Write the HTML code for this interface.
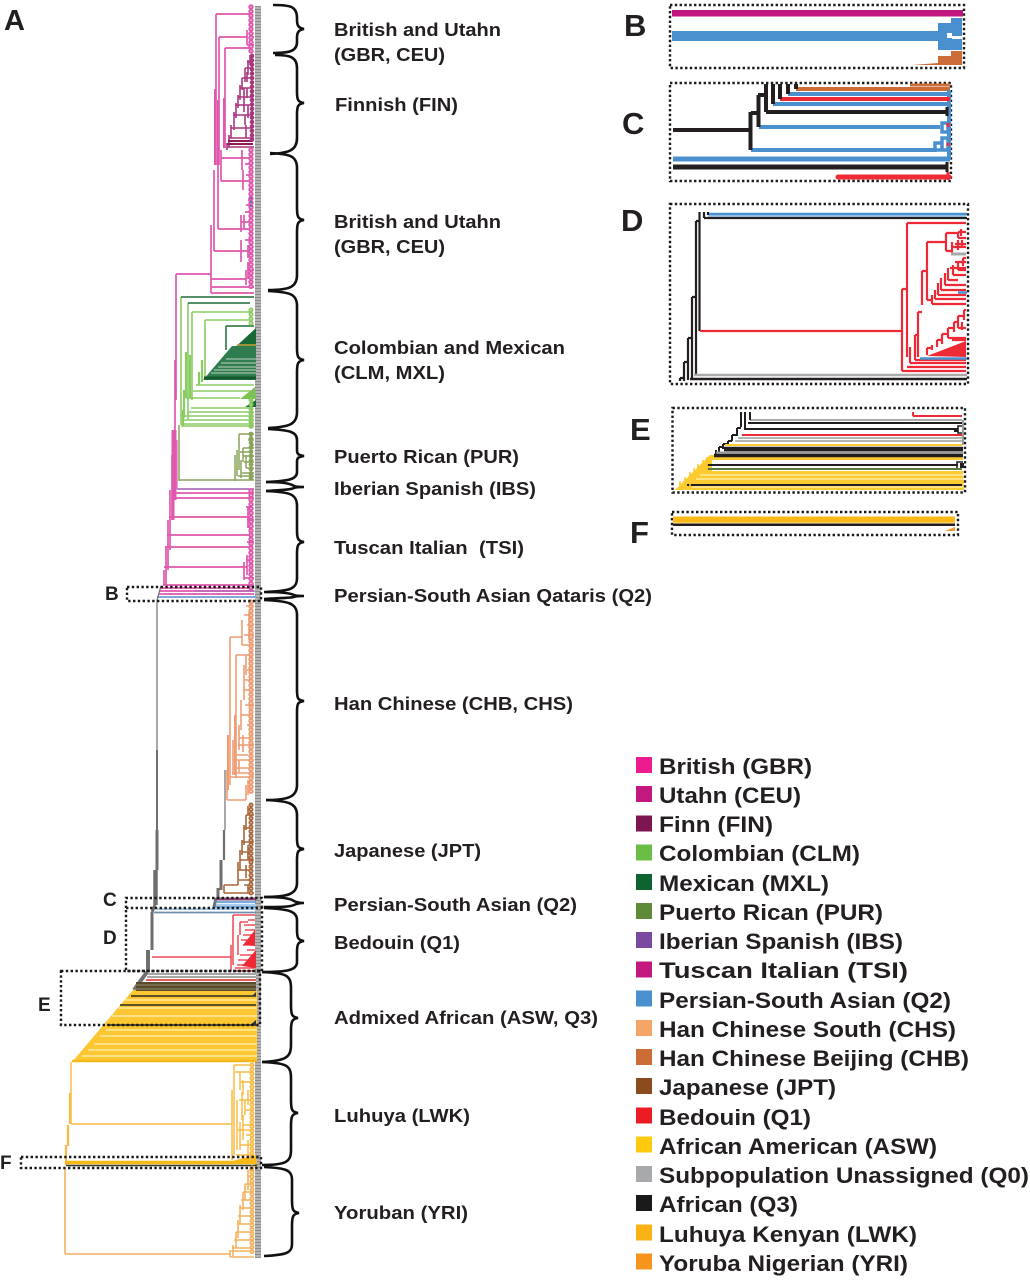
<!DOCTYPE html>
<html><head><meta charset="utf-8"><style>
html,body{margin:0;padding:0;background:#fff}
svg{display:block}
text{font-family:"Liberation Sans",sans-serif;font-weight:bold;fill:#231f20}
.l{font-size:18px}.g{font-size:22.5px}
.p{fill:none}
.dot{fill:none;stroke:#1a1a1a;stroke-width:2.4;stroke-dasharray:2.4 2.4}
</style></head><body>
<svg width="1030" height="1280" viewBox="0 0 1030 1280" xmlns="http://www.w3.org/2000/svg">
<rect width="1030" height="1280" fill="#fff"/>

<!-- leaf strip -->
<line x1="258" y1="6" x2="258" y2="1258" stroke="#b4b4b4" stroke-width="6"/>
<line x1="258" y1="6" x2="258" y2="1258" stroke="#8c8c8c" stroke-width="6" stroke-dasharray="1 2"/>

<!-- PINK upper -->
<g class="p" stroke="#e058ad" stroke-width="1.7">
<path d="M216 14H250M216 14V165M219 37H247M219 37V165M225 48H250M225 48V148M221 150V181M221 158H250M221 181H250M218 165V229M218 229H241M214 170V251M214 251H250M211 225V293M211 279H246M211 287H254M211 293H254M176 274H211M241 215V232M241 229H250M241 222H252M245 212H252M246 205H252M248 200H252M250 37H254M247 30V45M247 45H254M246 270V285M248 262V279M248 270H254M250 195V222M244 215V229M240 158H250M242 150V170M240 181H250M243 170V190M245 164H252M246 175H252M241 240V262M241 251H250M245 240H252M248 245V258"/>
<path stroke-width="2" d="M215 89V165M218 100V165M224 98V148"/>
<path d="M176 274V400M175 360V435M170 490V550M168 520V570M166 547V585M164 570V585M172 455V520"/>
<path stroke-width="3" d="M175 430V500M173 430V520"/>
<path d="M172 493H254M172 498H254M169 517H248M167 535H250M165 547H250M164 567H247M248 507V528M250 525V545M247 555V575M246 507H252M247 520H254M247 542H254M246 560H252M244 562V580M244 578H254"/>
<path stroke-width="1.8" d="M163 585H254M161 588H254M160 591H254M159 594H254"/>
</g>
<path d="M157 597H256" stroke="#7fa9dd" stroke-width="2"/>
<path d="M195 591H255" stroke="#9a5ab0" stroke-width="1"/>

<!-- Finnish ladder -->
<g class="p" stroke="#a9357f" stroke-width="1.6">
<path d="M227 147H254M229 138H254M231 128H252M234 115H252M236 105H252M238 97H252M240 88H252M242 78H252M245 68H252M247 62H252M250 55V65M248 60V75M245 68V82M242 78V90M240 85V100M238 95V108M236 103V118M234 112V130M231 125V138M229 135V147M227 143V150M244 88V100M247 72V82M245 115V125M244 100V112M246 125V138M248 105V118M247 88V98"/>
<path stroke="#8d1a5a" stroke-width="2" d="M228 141H253M227 144H253"/>
</g>

<!-- GREEN -->
<g class="p" stroke="#8ccb64" stroke-width="1.6">
<path d="M181 297V425M188 303V420M192 312V400M205 320V378M192 312H250M205 320H250M196 385H254M193 391H254M186 398H240M191 408H252M187 412H254M185 416H254M183 420H254M182 424H254M181 426H254"/>
<path stroke-width="2.2" d="M186 352V398M190 355V398M184 390V418M183 410V426M202 360V382M199 372V385"/>
</g>
<path d="M181 297H254M188 303H250M226 326H254M226 326V350" stroke="#1e6b38" stroke-width="1.5" fill="none"/>
<polygon points="230,352 256,328 256,352" fill="#1a6736"/>
<polygon points="232,346 256,346 256,380 203,380" fill="#2f7d4f"/>
<path d="M226 359H256M221 363H256M218 367H256M214 370H256M211 373H256" stroke="#8fb59b" stroke-width="1.5"/>
<path d="M237 345H256" stroke="#c9a13a" stroke-width="1.6"/>
<path d="M204 378H256" stroke="#14592d" stroke-width="3"/>
<polygon points="240,399 255,387 256,399" fill="#7cc353"/>
<polygon points="245,407 256,400 256,407" fill="#1e6b38"/>

<!-- Puerto Rican -->
<g class="p" stroke="#8aa45a" stroke-width="1.5">
<path d="M239 434H254M239 434V470M240 452H252M243 448H254M241 470V478M235 455V481M179 480H254M179 425V481M237 450V476M243 456H254M244 462H254M246 468H254M242 473H254M238 476H254M248 440H254M250 445H254M243 448V462M246 455V468M241 460V474"/>
</g>
<path d="M177 489H254" stroke="#9a5ab0" stroke-width="1.5"/>
<path d="M177 440V489" stroke="#d870c0" stroke-width="1.3"/>

<!-- gray long -->
<g class="p" stroke="#6f6f6f">
<path stroke-width="1.2" d="M157 600V750M161 586L157 600"/>
<path stroke-width="2" d="M157 750V830"/>
<path stroke-width="3" d="M157 830V870"/>
<path stroke-width="4.5" d="M155.5 870V905"/>
<path stroke-width="3" d="M152 912V950M155 905L152 912"/>
<path stroke-width="4" d="M148 950V972M147 972L134 990"/>
<path stroke-width="1.2" d="M225 770V830"/>
<path stroke-width="2.2" d="M224 830V860"/>
<path stroke-width="3" d="M221 860V890M218 888V900M216 898L214 907"/>
</g>

<!-- HAN -->
<g class="p" stroke="#ef9c73" stroke-width="1.6">
<path d="M230 637V785M230 637H242M236 655V760M236 655H250M242 620V645M242 645H254M246 606H254M244 615H250M247 625H254M244 635H254M249 612V640M247 670H252M245 680H252M243 690H254M241 700V730M241 715H252M245 705H254M247 725H254M239 725V750M239 738H250M238 745H254M237 755H248M235 760H254M233 768H254M232 773H254M230 777H254M227 770V800M227 800H246M246 785V800M248 780V795M251 775H254M250 645V685M239 760V772M233 740V775M236 745V778M244 665V700M246 655V675M243 735V752"/>
<path stroke-width="2" d="M228 735V790M235 715V775"/>
</g>
<!-- Japanese -->
<g class="p" stroke="#a9663a" stroke-width="1.6">
<path d="M248 806V815M246 815V830M244 825V845M242 840V855M240 850V870M238 862V885M224 885H238M224 893H254M224 885V893M246 815H254M244 828H252M242 842H254M241 852H252M240 860H254M238 870H250M239 880H254M248 845V860M246 865V878M248 885V893M244 885H252"/>
</g>
<path d="M216 899H256" stroke="#8c4a7a" stroke-width="3"/>
<path d="M215 902H256M214 907H257" stroke="#4a90cf" stroke-width="1.5"/>
<path d="M216 905H256" stroke="#a9cdef" stroke-width="2.5"/>
<path d="M157 909H256" stroke="#a9cdef" stroke-width="2"/>
<path d="M154 912.5H256" stroke="#6f8fb0" stroke-width="1.8"/>

<!-- Bedouin -->
<g class="p" stroke="#ee2a36" stroke-width="1.3">
<path d="M152 957H231M233 915H255M233 915V965M231 945V971M233 971H255M238 960H255M237 965H255M235 968H255M248 920H255M240 922H248M240 922V935M244 925H255M245 930H255M243 935H252M238 935V955M241 940H255M243 945H255M247 950H255M240 955H255"/>
</g>
<polygon points="242,966 256,950 256,968" fill="#ee2a36"/>
<polygon points="243,945 255,930 255,946" fill="#ee2a36"/>

<!-- African yellow -->
<polygon points="133,990 257,990 257,1062 72,1062" fill="#fcc733"/>
<path d="M125 1000H257M118 1008H257M112 1016H257M106 1030H257M100 1036H257M94 1044H257M88 1050H257M82 1056H257" stroke="#feeaa0" stroke-width="1.4"/>
<path d="M72 1061H257" stroke="#f8b81c" stroke-width="2.5"/>
<rect x="148" y="973" width="108" height="9" fill="#fff"/>
<path d="M148 974H256M147 977H256" stroke="#8a8a8a" stroke-width="1.5"/>
<path d="M146 980H256" stroke="#e0242c" stroke-width="1.5"/>
<rect x="136" y="982" width="120" height="9" fill="#5b4a2c"/>
<path d="M135 985H256M134 989H256" stroke="#8f8a6a" stroke-width="1"/>
<path d="M131 996H254M120 1005H256M107 1025H254" stroke="#2a2a22" stroke-width="1.6"/>
<polygon points="252,996 256,992 256,997" fill="#333"/>
<polygon points="250,1025 256,1020 256,1026" fill="#333"/>

<!-- Luhuya -->
<g class="p" stroke="#f9bb45" stroke-width="1.5">
<path d="M71 1062V1124M71 1124H232M232 1090V1160M234 1065V1155M234 1065H254M235 1072H252M240 1072V1090M240 1082H252M243 1080V1095M248 1090V1105M245 1100V1115M246 1110H252M243 1115V1140M243 1125H254M238 1130H254M240 1122V1150M240 1145H254M246 1135H254M248 1140V1155M236 1155H254M239 1100H250M242 1092V1120M237 1100V1150"/>
<path stroke-width="2.2" d="M70 1093V1124M68 1125V1146M66 1145V1165"/>
</g>
<path d="M66 1162.5H257" stroke="#fbb917" stroke-width="3.5"/>
<polygon points="232,1161 256,1155 256,1161" fill="#fbb917"/>
<path d="M66 1165.5H257" stroke="#3a3a2a" stroke-width="1.6"/>

<!-- Yoruban -->
<g class="p" stroke="#f2b25e" stroke-width="1.6">
<path d="M65 1168V1254M65 1254H230M230 1250V1257M230 1257H254M232 1248H254M234 1240H254M236 1232H250M237 1224H254M238 1216H252M240 1208H254M241 1200H252M243 1192H252M245 1184H254M247 1176H254M249 1170H254M248 1170V1190M245 1184V1200M243 1192V1210M240 1205V1225M238 1220V1238M236 1232V1248M233 1245V1256M231 1251H254"/>
</g>

<!-- scallop leaves -->
<g fill="none" stroke-linecap="round" stroke-dasharray="0 4.4">
<path stroke="#e058ad" stroke-width="5.4" d="M251 7V52M251 150V290M251 491V590"/>
<path stroke="#a9357f" stroke-width="4.6" d="M252 56V140"/>
<path stroke="#8ccb64" stroke-width="5" d="M251 310V325M251 400V428"/>
<path stroke="#8aa45a" stroke-width="4.8" d="M251 434V480"/>
<path stroke="#ef9c73" stroke-width="5.4" d="M251 602V795"/>
<path stroke="#a9663a" stroke-width="5" d="M251 805V895"/>
<path stroke="#f9bb45" stroke-width="5" d="M252 1065V1158"/>
<path stroke="#f2b25e" stroke-width="5" d="M252 1168V1252"/>
<path stroke="#fff" stroke-width="1.3" d="M251 7V52M251 150V290M251 491V590M251 310V325M251 602V795M251 805V895M252 1065V1158M252 1168V1252"/>
</g>
<path d="M251 197V207" stroke="#7a6bb5" stroke-width="3" stroke-dasharray="2 2"/>

<!-- dotted boxes main -->
<path class="dot" d="M127 587H261V601H127Z"/>
<path class="dot" d="M126 908V898H262V908"/>
<path class="dot" d="M126 908H262V971H126Z"/>
<path class="dot" d="M61 971H260V1025H61Z"/>
<path class="dot" d="M21 1157H261V1168H21Z"/>

<!-- braces -->
<g fill="none" stroke="#111" stroke-width="2.6">
<path d="M273 5C290 5 297 6 297 18V20C297 25 298 28 304 29C298 30 297 33 297 38V42C297 51 290 53 273 53"/>
<path d="M275 55C290 55 297 57 297 68V92C297 100 298 102 304 103C298 104 297 106 297 114V138C297 150 290 153 270 154"/>
<path d="M270 153C290 154 297 156 297 168V208C297 217 298 219 304 220C298 221 297 223 297 232V275C297 287 290 290 268 290"/>
<path d="M268 291C290 292 297 294 297 306V348C297 357 298 359 304 360C298 361 297 363 297 372V412C297 424 290 427 268 428"/>
<path d="M268 429C290 430 297 432 297 440V450C297 454 298 455 304 456C298 457 297 458 297 462V472C297 479 290 481 266 482"/>
<path d="M266 482C280 482 290 483 294 486C296 487 298 487 304 487C298 487 296 487 294 488C290 490 280 490 266 491"/>
<path d="M266 491C290 492 297 494 297 506V530C297 539 298 541 304 542C298 543 297 545 297 554V578C297 589 290 591 266 592"/>
<path d="M264 592C280 592 290 593 294 595C296 596 298 596 304 596C298 596 296 596 294 597C290 598 280 598 264 599"/>
<path d="M264 600C288 601 297 603 297 615V690C297 699 298 700 304 701C298 702 297 703 297 712V785C297 797 288 800 266 800"/>
<path d="M266 800C288 801 297 803 297 815V838C297 847 298 848 304 849C298 850 297 851 297 860V883C297 894 288 897 264 897"/>
<path d="M264 897C280 897 290 898 294 901C296 902 298 903 304 903C298 903 296 904 294 905C290 907 280 907 264 907"/>
<path d="M264 908C288 909 297 911 297 920V930C297 938 298 940 304 941C298 942 297 944 297 952V962C297 970 288 972 262 972"/>
<path d="M262 972C286 973 291 975 291 988V1005C291 1015 292 1017 298 1018C292 1019 291 1021 291 1031V1045C291 1057 286 1061 262 1062"/>
<path d="M262 1062C286 1063 291 1065 291 1078V1100C291 1110 292 1112 298 1113C292 1114 291 1116 291 1126V1150C291 1162 286 1165 262 1165"/>
<path d="M264 1167C286 1168 292 1170 292 1180V1200C292 1210 293 1212 299 1213C293 1214 292 1216 292 1226V1244C292 1253 286 1255 264 1256"/>
</g>

<!-- tree labels -->
<text class="l" x="334" y="36" textLength="167" lengthAdjust="spacingAndGlyphs">British and Utahn</text>
<text class="l" x="334" y="61" textLength="111" lengthAdjust="spacingAndGlyphs">(GBR, CEU)</text>
<text class="l" x="335" y="111" textLength="123" lengthAdjust="spacingAndGlyphs">Finnish (FIN)</text>
<text class="l" x="334" y="228" textLength="167" lengthAdjust="spacingAndGlyphs">British and Utahn</text>
<text class="l" x="334" y="253" textLength="111" lengthAdjust="spacingAndGlyphs">(GBR, CEU)</text>
<text class="l" x="334" y="354" textLength="231" lengthAdjust="spacingAndGlyphs">Colombian and Mexican</text>
<text class="l" x="334" y="379" textLength="111" lengthAdjust="spacingAndGlyphs">(CLM, MXL)</text>
<text class="l" x="334" y="463" textLength="185" lengthAdjust="spacingAndGlyphs">Puerto Rican (PUR)</text>
<text class="l" x="334" y="495" textLength="202" lengthAdjust="spacingAndGlyphs">Iberian Spanish (IBS)</text>
<text class="l" x="334" y="554" textLength="190" lengthAdjust="spacingAndGlyphs" xml:space="preserve">Tuscan Italian  (TSI)</text>
<text class="l" x="334" y="602" textLength="318" lengthAdjust="spacingAndGlyphs">Persian-South Asian Qataris (Q2)</text>
<text class="l" x="334" y="710" textLength="239" lengthAdjust="spacingAndGlyphs">Han Chinese (CHB, CHS)</text>
<text class="l" x="334" y="857" textLength="147" lengthAdjust="spacingAndGlyphs">Japanese (JPT)</text>
<text class="l" x="334" y="911" textLength="243" lengthAdjust="spacingAndGlyphs">Persian-South Asian (Q2)</text>
<text class="l" x="334" y="949" textLength="126" lengthAdjust="spacingAndGlyphs">Bedouin (Q1)</text>
<text class="l" x="334" y="1024" textLength="264" lengthAdjust="spacingAndGlyphs">Admixed African (ASW, Q3)</text>
<text class="l" x="334" y="1122" textLength="136" lengthAdjust="spacingAndGlyphs">Luhuya (LWK)</text>
<text class="l" x="334" y="1219" textLength="134" lengthAdjust="spacingAndGlyphs">Yoruban (YRI)</text>

<!-- letters -->
<text x="4" y="30" font-size="29">A</text>
<text x="624" y="36" font-size="31">B</text>
<text x="622" y="134" font-size="31">C</text>
<text x="621" y="231" font-size="31">D</text>
<text x="630" y="440" font-size="31">E</text>
<text x="630" y="543" font-size="31">F</text>
<text x="105" y="600" font-size="19">B</text>
<text x="103" y="906" font-size="19">C</text>
<text x="103" y="944" font-size="19">D</text>
<text x="38" y="1011" font-size="19">E</text>
<text x="0" y="1169" font-size="19">F</text>

<!-- Inset B -->
<path class="dot" d="M670 5H964V68H670Z"/>
<rect x="672" y="10" width="291" height="6.5" fill="#c2177f"/>
<rect x="672" y="31" width="266" height="10" fill="#4a90cf"/>
<path d="M951 18H962V50H938V23H951Z" fill="#4a90cf"/>
<rect x="947" y="33" width="5" height="5" fill="#fff"/>
<rect x="952" y="36" width="10" height="3" fill="#fff"/>
<path d="M951 51H962V65H938V56H951Z" fill="#cc6d37"/>
<polygon points="912,65 938,63 938,65" fill="#cc6d37"/>

<!-- Inset C -->
<path class="dot" d="M670 83H951V181H670Z"/>
<g fill="none" stroke-width="4">
<path stroke="#cc6d37" d="M796 89H950"/>
<path stroke="#cc6d37" stroke-width="3" d="M910 85H950"/>
<path stroke="#4a90cf" d="M788 94H950M773 104H950M759 127H940M751 150H934M949 90V160"/>
<path stroke="#ee2a36" d="M780 99H950"/>
<path stroke="#4a90cf" stroke-width="3.5" d="M942 123H948V132H942ZM935 152V143H942V150M942 143V138H948V150H935"/>
<path stroke="#4a90cf" stroke-width="5" d="M673 159H950"/>
<path stroke="#231f20" stroke-width="5" d="M673 167H946"/>
<path stroke="#ee2a36" stroke-width="5" stroke-linecap="round" d="M838 177H949"/>
<path stroke="#231f20" d="M673 130H750M750.5 112V150M751 113H758M758.5 95V127M758 95H765M766 84V112M766 112H946M773 84V104M780 84V99M788 84V94M796 84V89"/>
<path stroke="#231f20" stroke-width="3" d="M947 107V116M947 162V172"/>
<path stroke="#ee2a36" stroke-width="3" d="M948 172V180M948 123V127M948 143V146"/>
</g>

<!-- Inset D -->
<path class="dot" d="M670 204H968V384H670Z"/>
<g fill="none" stroke-width="2.2">
<path stroke="#a9cdef" stroke-width="2" d="M708 216H966"/>
<path stroke="#4a90cf" stroke-width="2.5" d="M708 214H967"/>
<path stroke="#231f20" d="M704 218H967M704 212V218M708 212V215M699.5 212V331M696 221V375M692 297V378M696 221H700M692 297H696M688 338V380M688 338H692M684 362V381M684 362H688M680 378V381M680 378H684"/>
<path stroke="#aaa" stroke-width="2.5" d="M694 375H967"/>
<path stroke="#231f20" stroke-width="2.5" d="M690 379H967"/>
<path stroke="#ee2a36" d="M700 331H902M902 289V371M902 289H907M902 371H966M907 223V357M907 223H966M907 367H966M910 347V363M910 363H966M915 335V360M915 360H966M918 312V357M915 335H918M918 312H922M922 271V305M922 271H927M927 242V300M927 242H946M946 233V251M946 233H958M958 232V238M958 232H966M958 238H966M961 229V236M946 251H952M952 242V253M952 247H966M955 244H966M958 240V250M962 240V246"/>
<path stroke="#ee2a36" d="M927 300H932M932 295V304M932 304H966M935 290V299M935 299H966M938 283V295M938 295H966M941 278V290M941 290H966M945 273V285M945 285H966M948 268V280M948 280H958M953 265V275M953 275H966M958 262V270M958 270H966M963 258V266M963 258H966M950 268H966M955 262H966"/>
<path stroke="#ee2a36" d="M927 355V348M927 348H932M932 345V350M937 340V347M937 340H942M942 334V344M942 334H948M948 328V338M948 328H954M954 322V332M954 322H958M958 316V328M958 316H964M964 310V320M964 310H966M958 328H966M962 322V330M952 340H966M948 338H966"/>
<path stroke="#aaa" stroke-width="3" d="M951 254H966"/>
<path stroke="#4a90cf" stroke-width="2.5" d="M958 292.5H967"/>
</g>
<polygon points="927,356 966,341 966,357" fill="#ee2a36"/>
<path d="M920 358.5H967" stroke="#4a90cf" stroke-width="2.5"/>

<!-- Inset E -->
<path class="dot" d="M672.5 408H965V492.5H672.5Z"/>
<polygon points="675,490 710,455 962,455 964,490" fill="#fdca2f"/>
<rect x="712" y="460" width="252" height="11" fill="#fff"/>
<path d="M706 459H963M700 473H963" stroke="#fdca2f" stroke-width="2"/>
<path d="M700 475H963M696 479H963M692 487H963" stroke="#fee9a0" stroke-width="1.4"/>
<g fill="none" stroke-width="2">
<path stroke="#ee2a36" d="M913 416H962M913 412V416"/>
<path stroke="#aaa" d="M750 420H962"/>
<path stroke="#231f20" d="M748 423H962M741 412V427M745 412V430M750 412V420M745 429H958M737 428V436M732 435V441M728 441V446M723 444V449M719 447V452M716 450V455M737 428H741M732 435H737M728 441H732M723 444H728M719 447H723"/>
<path stroke="#ee2a36" d="M742 435H962"/>
<path stroke="#aaa" stroke-width="1.8" d="M738 438H962M735 441H962"/>
<path stroke="#fdca2f" d="M725 445H962"/>
<path stroke="#231f20" stroke-width="4.5" d="M724 449H963"/>
<path stroke="#999" d="M716 452.5H963"/>
<path stroke="#231f20" stroke-width="3.5" d="M714 455.5H963"/>
<path stroke="#231f20" d="M707 465H958"/>
<path stroke="#5a7a3a" d="M707 469H962"/>
<path stroke="#231f20" stroke-width="2" d="M687 485H962"/>
<path stroke="#231f20" stroke-width="4" d="M956 429V432M962 463V468"/>
<path stroke="#231f20" stroke-width="1.6" d="M958 426H963V433H958ZM957 468V462H963"/>
<path stroke="#fdca2f" stroke-width="1.6" d="M707 457V470M703 460V474M698 464V478M694 468V482M690 472V486M685 477V487M680 481V490"/>
<path stroke="#999" stroke-width="2" d="M963 420V445"/>
</g>

<!-- Inset F -->
<path class="dot" d="M672 512H958V535H672Z"/>
<rect x="673" y="516.5" width="282" height="6" fill="#fcb817"/>
<rect x="673" y="522.5" width="282" height="1" fill="#fde49a"/>
<rect x="673" y="523.5" width="282" height="2.5" fill="#231f20"/>
<polygon points="945,531 955,527 955,531" fill="#f29a2e"/>

<!-- legend -->
<rect x="636" y="757" width="16" height="16" fill="#ec1c8f"/>
<rect x="636" y="786" width="16" height="16" fill="#c2187f"/>
<rect x="636" y="815.5" width="16" height="16" fill="#7c1550"/>
<rect x="636" y="844.5" width="16" height="16" fill="#6abd45"/>
<rect x="636" y="874" width="16" height="16" fill="#0f6331"/>
<rect x="636" y="903" width="16" height="16" fill="#5f8a3a"/>
<rect x="636" y="932" width="16" height="16" fill="#7a4aa0"/>
<rect x="636" y="961.5" width="16" height="16" fill="#c2187f"/>
<rect x="636" y="990.5" width="16" height="16" fill="#4a90cf"/>
<rect x="636" y="1020" width="16" height="16" fill="#f5a566"/>
<rect x="636" y="1049" width="16" height="16" fill="#cc6d37"/>
<rect x="636" y="1078" width="16" height="16" fill="#8c4a1f"/>
<rect x="636" y="1107.5" width="16" height="16" fill="#ed1c24"/>
<rect x="636" y="1136.5" width="16" height="16" fill="#fdca0f"/>
<rect x="636" y="1166" width="16" height="16" fill="#a8a9ad"/>
<rect x="636" y="1195" width="16" height="16" fill="#1a1a1a"/>
<rect x="636" y="1224.5" width="16" height="16" fill="#fbb217"/>
<rect x="636" y="1253.5" width="16" height="16" fill="#f7941d"/>
<g>
<text class="g" x="659" y="774" textLength="153" lengthAdjust="spacingAndGlyphs">British (GBR)</text>
<text class="g" x="659" y="803" textLength="142" lengthAdjust="spacingAndGlyphs">Utahn (CEU)</text>
<text class="g" x="659" y="832" textLength="114" lengthAdjust="spacingAndGlyphs">Finn (FIN)</text>
<text class="g" x="659" y="861" textLength="201" lengthAdjust="spacingAndGlyphs">Colombian (CLM)</text>
<text class="g" x="659" y="891" textLength="170" lengthAdjust="spacingAndGlyphs">Mexican (MXL)</text>
<text class="g" x="659" y="920" textLength="224" lengthAdjust="spacingAndGlyphs">Puerto Rican (PUR)</text>
<text class="g" x="659" y="949" textLength="244" lengthAdjust="spacingAndGlyphs">Iberian Spanish (IBS)</text>
<text class="g" x="659" y="978" textLength="249" lengthAdjust="spacingAndGlyphs">Tuscan Italian (TSI)</text>
<text class="g" x="659" y="1008" textLength="292" lengthAdjust="spacingAndGlyphs">Persian-South Asian (Q2)</text>
<text class="g" x="659" y="1037" textLength="297" lengthAdjust="spacingAndGlyphs">Han Chinese South (CHS)</text>
<text class="g" x="659" y="1066" textLength="310" lengthAdjust="spacingAndGlyphs">Han Chinese Beijing (CHB)</text>
<text class="g" x="659" y="1095" textLength="177" lengthAdjust="spacingAndGlyphs">Japanese (JPT)</text>
<text class="g" x="659" y="1125" textLength="152" lengthAdjust="spacingAndGlyphs">Bedouin (Q1)</text>
<text class="g" x="659" y="1154" textLength="278" lengthAdjust="spacingAndGlyphs">African American (ASW)</text>
<text class="g" x="659" y="1183" textLength="370" lengthAdjust="spacingAndGlyphs">Subpopulation Unassigned (Q0)</text>
<text class="g" x="659" y="1212" textLength="139" lengthAdjust="spacingAndGlyphs">African (Q3)</text>
<text class="g" x="659" y="1242" textLength="258" lengthAdjust="spacingAndGlyphs">Luhuya Kenyan (LWK)</text>
<text class="g" x="659" y="1271" textLength="249" lengthAdjust="spacingAndGlyphs">Yoruba Nigerian (YRI)</text>
</g>
</svg>
</body></html>
